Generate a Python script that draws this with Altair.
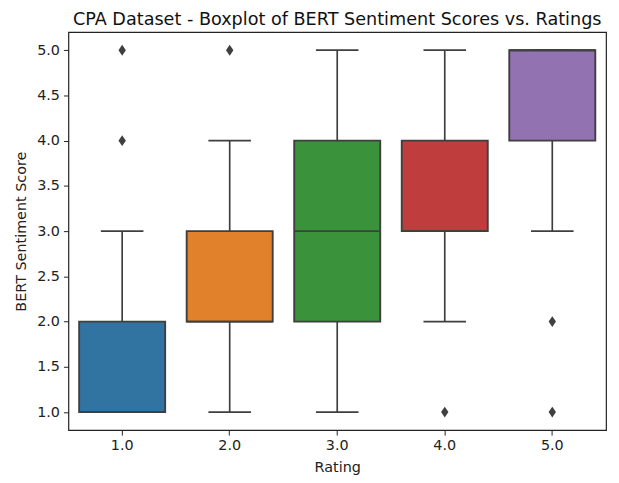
import altair as alt
import pandas as pd

ratings = ["1.0", "2.0", "3.0", "4.0", "5.0"]
q1 = [1.0, 2.0, 2.0, 3.0, 4.0]
median = [1.0, 2.0, 3.0, 3.0, 5.0]
q3 = [2.0, 3.0, 4.0, 4.0, 5.0]
whisker_low = [1.0, 1.0, 1.0, 2.0, 3.0]
whisker_high = [3.0, 4.0, 5.0, 5.0, 5.0]
colors = ["#3274a1", "#e1812c", "#3a923a", "#c03d3e", "#9372b2"]

flier_rating = ["1.0", "1.0", "2.0", "4.0", "5.0", "5.0"]
flier_value = [4.0, 5.0, 5.0, 1.0, 2.0, 1.0]

stats = pd.DataFrame({
    "Rating": ratings, "q1": q1, "median": median, "q3": q3,
    "lo": whisker_low, "hi": whisker_high,
})
fliers = pd.DataFrame({"Rating": flier_rating, "value": flier_value})

EDGE = "#3f3f3f"
FONT = "DejaVu Sans"
LS = 14.5

x = alt.X("Rating:N", sort=ratings,
          scale=alt.Scale(paddingInner=0, paddingOuter=0),
          axis=alt.Axis(title="Rating", labelAngle=0, tickSize=5, tickColor="#222",
                        labelFontSize=LS, titleFontSize=LS, labelFont=FONT, titleFont=FONT,
                        titleFontWeight="normal",
                        labelColor="#222", titleColor="#222", domain=False, labelPadding=4,
                        titlePadding=8))
yscale = alt.Scale(domain=[0.8, 5.2], nice=False, zero=False)
yaxis = alt.Axis(title="BERT Sentiment Score", values=[1.0, 1.5, 2.0, 2.5, 3.0, 3.5, 4.0, 4.5, 5.0],
                 format=".1f", grid=False, tickSize=5, tickColor="#222", labelFontSize=LS,
                 titleFontSize=LS, labelFont=FONT, titleFont=FONT, labelColor="#222",
                 titleFontWeight="normal",
                 titleColor="#222", domain=False, labelPadding=4, titlePadding=8)

base = alt.Chart(stats)

whisk_low = base.mark_rule(color=EDGE, strokeWidth=1.7).encode(
    x=x, y=alt.Y("lo:Q", scale=yscale, axis=yaxis), y2="q1:Q")
whisk_high = base.mark_rule(color=EDGE, strokeWidth=1.7).encode(
    x=x, y=alt.Y("q3:Q", scale=yscale, axis=yaxis), y2="hi:Q")
cap_low = base.mark_tick(color=EDGE, thickness=1.7, size=43, orient="horizontal", opacity=1).encode(
    x=x, y=alt.Y("lo:Q", scale=yscale, axis=yaxis))
cap_high = base.mark_tick(color=EDGE, thickness=1.7, size=43, orient="horizontal", opacity=1).encode(
    x=x, y=alt.Y("hi:Q", scale=yscale, axis=yaxis))
box = base.mark_bar(width={"band": 0.8}, stroke=EDGE, strokeWidth=1.9, opacity=1).encode(
    x=x, y=alt.Y("q1:Q", scale=yscale, axis=yaxis), y2="q3:Q",
    color=alt.Color("Rating:N", scale=alt.Scale(domain=ratings, range=colors), legend=None))
med = base.mark_tick(color=EDGE, thickness=1.9, size=87, orient="horizontal", opacity=1).encode(
    x=x, y=alt.Y("median:Q", scale=yscale, axis=yaxis))
flier = alt.Chart(fliers).mark_point(
    shape="M0,-1L0.68,0L0,1L-0.68,0Z", filled=True, color=EDGE, size=120, opacity=1).encode(
    x=x, y=alt.Y("value:Q", scale=yscale, axis=yaxis))

chart = alt.layer(whisk_low, whisk_high, cap_low, cap_high, box, med, flier).properties(
    width=543, height=402,
    title=alt.Title("CPA Dataset - Boxplot of BERT Sentiment Scores vs. Ratings",
                    fontSize=17.8, font=FONT, fontWeight="normal", color="#111", offset=3),
    padding={"left": 61, "top": 22, "right": 5, "bottom": 50},
    autosize=alt.AutoSizeParams(type="none"),
    background="white",
).configure_view(stroke="#222", strokeWidth=1.2)

chart.save("out.html", embed_options={"renderer": "svg", "actions": False})
